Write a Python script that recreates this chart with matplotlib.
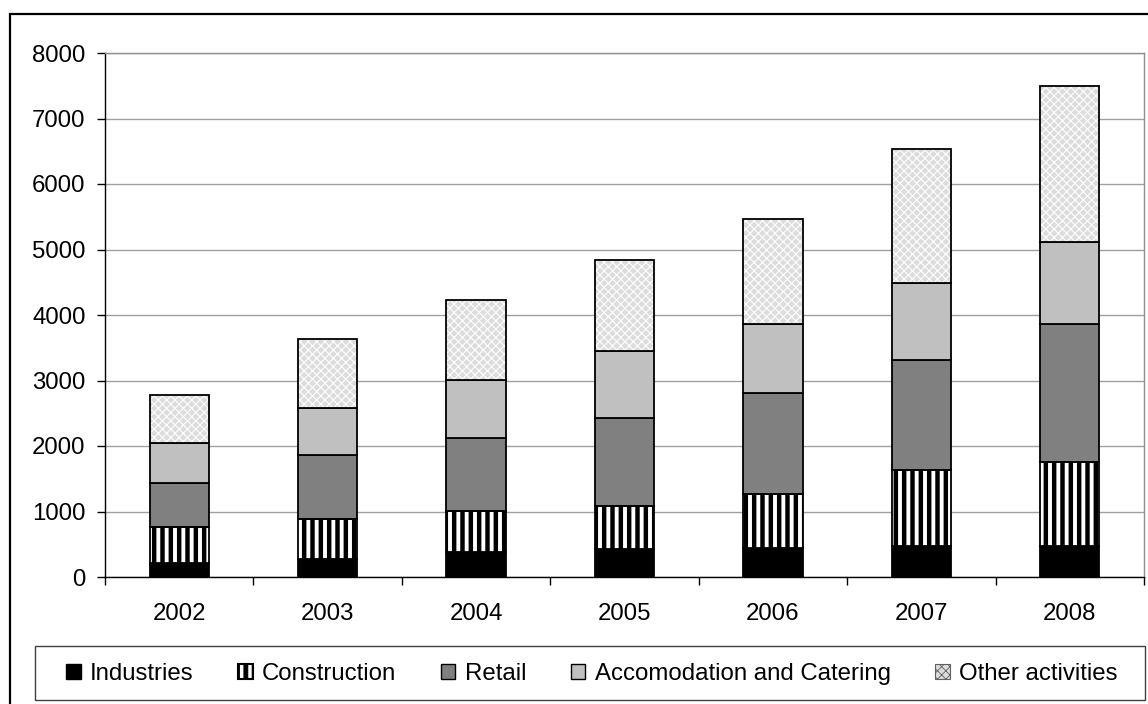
import numpy as np
import matplotlib
matplotlib.use("Agg")
import matplotlib.pyplot as plt
from matplotlib.patches import Patch, Rectangle

plt.rcParams['font.family'] = ['Liberation Sans', 'DejaVu Sans']

# ------------------------------------------------------------
# Data
years = ["2002", "2003", "2004", "2005", "2006", "2007", "2008"]
industries = [210, 270, 385, 435, 440, 480, 480]
construction = [555, 615, 625, 655, 830, 1160, 1270]
retail = [670, 985, 1105, 1340, 1540, 1680, 2120]
accomodation = [615, 705, 900, 1020, 1045, 1165, 1245]
other = [735, 1055, 1215, 1390, 1615, 2055, 2385]
labels = ["Industries", "Construction", "Retail",
          "Accomodation and Catering", "Other activities"]

# ------------------------------------------------------------
# Figure
W, H = 1148, 704
fig = plt.figure(figsize=(W / 100, H / 100), dpi=100)
ax = fig.add_axes([105 / W, 1 - 577 / H, (1144 - 105) / W, (577 - 53) / H])

x = np.arange(len(years))
width = 0.40
bottom = np.zeros(len(years))
edge_lw = 1.3
fs = 17.3
other_face = "#dcdcdc"


def set_hlw(artists, lw):
    for a in artists:
        if hasattr(a, "set_hatch_linewidth"):
            a.set_hatch_linewidth(lw)


# Industries
ax.bar(x, industries, width, bottom=bottom, color="black",
       edgecolor="black", linewidth=edge_lw, zorder=3)
bottom += industries

# Construction: black vertical stripes
with plt.rc_context({"hatch.linewidth": 3.2}):
    bars = ax.bar(x, construction, width, bottom=bottom, color="white",
                  edgecolor="black", hatch="||", linewidth=0, zorder=3)
    set_hlw(bars, 3.2)
ax.bar(x, construction, width, bottom=bottom, fill=False,
       edgecolor="black", linewidth=edge_lw, zorder=4)
bottom += construction

# Retail
ax.bar(x, retail, width, bottom=bottom, color="#808080",
       edgecolor="black", linewidth=edge_lw, zorder=3)
bottom += retail

# Accomodation and Catering
ax.bar(x, accomodation, width, bottom=bottom, color="#c0c0c0",
       edgecolor="black", linewidth=edge_lw, zorder=3)
bottom += accomodation

# Other activities: light crosshatch
with plt.rc_context({"hatch.linewidth": 0.8}):
    bars = ax.bar(x, other, width, bottom=bottom, color=other_face,
                  edgecolor="white", hatch="xxxx", linewidth=0, zorder=3)
    set_hlw(bars, 0.8)
ax.bar(x, other, width, bottom=bottom, fill=False,
       edgecolor="black", linewidth=edge_lw, zorder=4)

# ------------------------------------------------------------
# Axes styling
ax.set_xlim(-0.5, len(years) - 0.5)
ax.set_ylim(0, 8000)
ax.set_yticks(np.arange(0, 8001, 1000))
ax.yaxis.grid(True, color="#a0a0a0", linewidth=1.0, zorder=0)
ax.set_axisbelow(True)

ax.set_xticks(x)
ax.set_xticklabels(years)
ax.set_xticks(np.arange(-0.5, len(years), 1.0), minor=True)
ax.tick_params(axis="x", which="major", length=0, pad=19, labelsize=fs)
ax.tick_params(axis="x", which="minor", length=6, width=1, direction="out")
ax.tick_params(axis="y", length=6, width=1, pad=8, labelsize=fs)

for side in ("top", "right"):
    ax.spines[side].set_color("#909090")
    ax.spines[side].set_linewidth(1.0)
for side in ("left", "bottom"):
    ax.spines[side].set_color("black")
    ax.spines[side].set_linewidth(1.0)

# ------------------------------------------------------------
# Legend
handles = [
    Patch(facecolor="black", edgecolor="black"),
    Patch(facecolor="white", edgecolor="black", hatch="||", linewidth=1.5),
    Patch(facecolor="#808080", edgecolor="black"),
    Patch(facecolor="#c0c0c0", edgecolor="black"),
    Patch(facecolor=other_face, edgecolor="black", hatch="xxxx", linewidth=0.8),
]
with plt.rc_context({"hatch.linewidth": 3.5}):
    leg = fig.legend(handles, labels, loc="center",
                     bbox_to_anchor=(592 / W, 1 - 674 / H),
                     ncol=5, frameon=False, fontsize=fs, handlelength=0.6,
                     handleheight=0.6, handletextpad=0.4, columnspacing=1.85)
set_hlw(leg.legend_handles[1:2], 3.5)
set_hlw(leg.legend_handles[4:5], 0.6)
leg.legend_handles[4].set_edgecolor("#606060")

fig.patches.append(Rectangle((35 / W, 1 - 700 / H), 1110 / W, 54 / H,
                             transform=fig.transFigure, fill=False,
                             edgecolor="#404040", linewidth=1.0))
# outer border
fig.patches.append(Rectangle((10 / W, -0.05), 1.1, 1 - 14 / H + 0.05,
                             transform=fig.transFigure, fill=False,
                             edgecolor="black", linewidth=1.6))

plt.savefig("out.png", dpi=100)
